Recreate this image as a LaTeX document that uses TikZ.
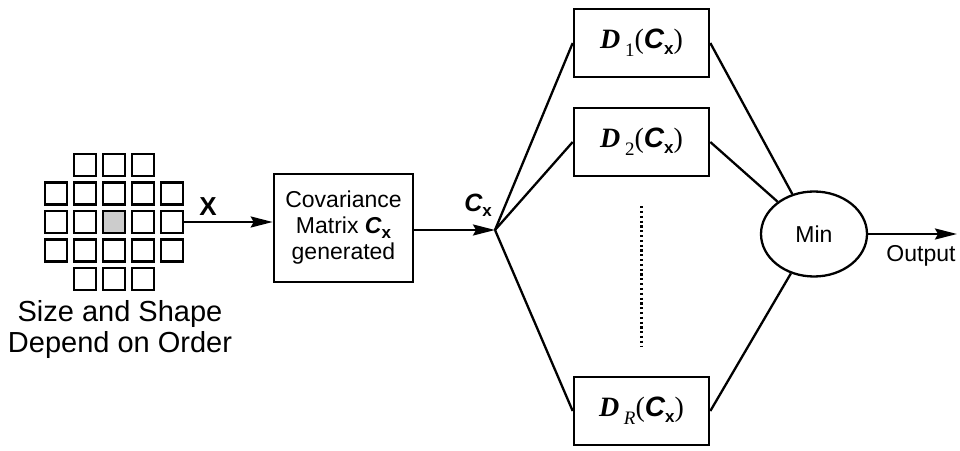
\documentclass[tikz,border=0pt]{standalone}
\usepackage{fontspec}
\setmainfont{Liberation Sans}
\newfontfamily\timesfont{Liberation Serif}
\newfontfamily\helv{Liberation Sans}
\usetikzlibrary{arrows.meta,shapes.geometric}

\newcommand{\cx}{{\helv\bfseries\itshape C}\raisebox{-0.4ex}{\helv\bfseries\fontsize{17}{17}\selectfont x}}
\newcommand{\dlab}[1]{{\bfseries\itshape D}\,\raisebox{-0.6ex}{\fontsize{19}{19}\selectfont #1}(\cx)}

\begin{document}
\begin{tikzpicture}[x=1pt, y=1pt, line width=2.3pt,
    cell/.style={draw, minimum size=22pt, inner sep=0pt},
    box/.style={draw, line width=2.6pt, inner sep=0pt},
    dbox/.style={box, minimum width=135pt, minimum height=68pt,
        font=\timesfont\fontsize{28}{30}\selectfont},
    arr/.style={-{Stealth[length=22pt, width=11pt, inset=3pt]}},
    font=\fontsize{23}{26}\selectfont]
    \useasboundingbox (0, 0) rectangle (960, 450);
    \foreach \r/\cols in {1/{2,3,4}, 2/{1,...,5}, 3/{1,2,4,5}, 4/{1,...,5}, 5/{2,3,4}}
      \foreach \c in \cols
        \node[cell] (c\r\c) at ({114+29*(\c-3)}, {228-28.5*(\r-3)}) {};
    \node[cell, fill=gray!40] (c33) at (114, 228) {};
    \node[align=center, font=\fontsize{29}{31}\selectfont] (order) at (120, 120) {Size and Shape\\Depend on Order};
    \node[font=\bfseries\fontsize{26}{26}\selectfont] (x) at (208, 243) {X};
    \node[box, minimum width=139pt, minimum height=108pt, align=center] (cov) at (343.5, 222)
        {Covariance\\Matrix \cx\\generated};
    \coordinate (J) at (495, 220);
    \node[font=\fontsize{25}{25}\selectfont] (cx) at (478, 245) {\cx};
    \node[dbox] (d1) at (641.5, 407) {\dlab{1}};
    \node[dbox] (d2) at (641.5, 308) {\dlab{2}};
    \node[dbox] (dr) at (641.5, 39) {\dlab{\itshape R}};
    \node[draw, ellipse, minimum width=106pt, minimum height=85pt] (min) at (814, 216) {Min};
    \coordinate (out) at (957, 216);
    \node[font=\fontsize{23}{23}\selectfont] (outlbl) at (921, 194) {Output};
    \draw [arr] (c35.east) -- (c35.east -| cov.west);
    \draw [arr] (cov.east |- J) -- (J);
    \draw (J) -- (d1.west);
    \draw (J) -- (d2.west);
    \draw (J) -- (dr.west);
    \draw (d1.east) -- (min);
    \draw (d2.east) -- (min);
    \draw (dr.east) -- (min);
    \draw [arr] (min.east) -- (out);
    \draw [dash pattern=on 2.2pt off 2.6pt] (d2.south) ++(0, -29) coordinate (dtop) -- ++(0, -140) coordinate (dbot);
\end{tikzpicture}
\end{document}
